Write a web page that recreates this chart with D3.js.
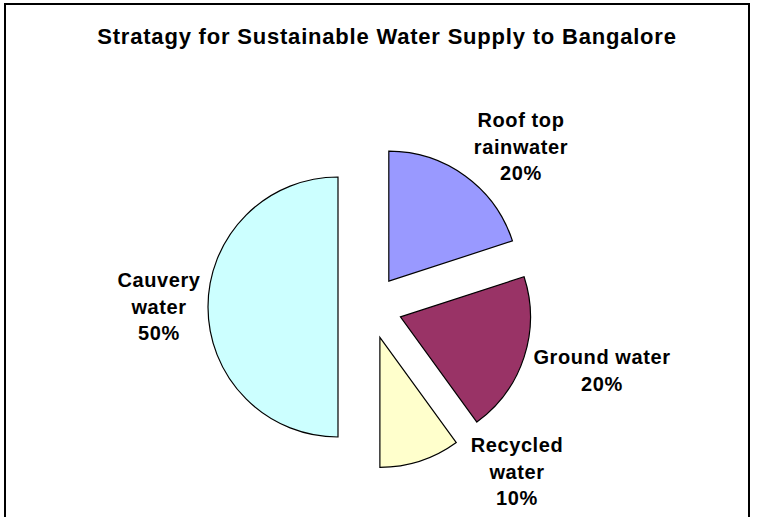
<!DOCTYPE html>
<html>
<head>
<meta charset="utf-8">
<script src="https://cdn.jsdelivr.net/npm/d3@7"></script>
<style>
  html, body { margin: 0; padding: 0; background: #fff; }
  svg { display: block; }
  text { font-family: "Liberation Sans", Arial, Helvetica, sans-serif; font-weight: bold; fill: #000; }
</style>
</head>
<body>
<svg id="chart" width="761" height="517"></svg>
<script>
// ---- data ----
const title = "Stratagy for Sustainable Water Supply to Bangalore";
const categories = ["Roof top\nrainwater", "Ground water", "Recycled\nwater", "Cauvery\nwater"];
const values = [20, 20, 10, 50];
const colors = ["#9999FF", "#993366", "#FFFFCC", "#CCFFFF"];

// ---- layout ----
const W = 761, H = 517;
const cx = 370, cy = 307, radius = 130, explode = 32;
// label first-baseline offsets from pie centre (per slice)
const labelOffsets = [[151, -180], [232, 57], [147, 145], [-211, -20]];
const lineHeight = 26.5;

const svg = d3.select("#chart");

svg.append("rect")
  .attr("x", 5).attr("y", 4)
  .attr("width", 744).attr("height", 600)
  .attr("fill", "#fff")
  .attr("stroke", "#000")
  .attr("stroke-width", 2);

svg.append("text")
  .attr("x", 387).attr("y", 44)
  .attr("text-anchor", "middle")
  .style("font-size", "22px")
  .style("letter-spacing", "0.8px")
  .text(title);

const total = d3.sum(values);
const pie = d3.pie().sort(null).value(d => d)(values);
const arc = d3.arc().innerRadius(0).outerRadius(radius);

const g = svg.append("g").attr("transform", `translate(${cx},${cy})`);

g.selectAll("path.slice")
  .data(pie)
  .join("path")
  .attr("class", "slice")
  .attr("transform", d => {
    const mid = (d.startAngle + d.endAngle) / 2;
    return `translate(${Math.sin(mid) * explode},${-Math.cos(mid) * explode})`;
  })
  .attr("d", arc)
  .attr("fill", (d, i) => colors[i])
  .attr("stroke", "#000")
  .attr("stroke-width", 1.2);

const labels = g.selectAll("text.lbl")
  .data(pie)
  .join("text")
  .attr("class", "lbl")
  .attr("text-anchor", "middle")
  .style("font-size", "20px")
  .style("letter-spacing", "0.6px")
  .attr("transform", (d, i) => `translate(${labelOffsets[i][0]},${labelOffsets[i][1]})`);

labels.each(function(d, i) {
  const lines = categories[i].split("\n").concat([Math.round(d.value / total * 100) + "%"]);
  d3.select(this).selectAll("tspan")
    .data(lines)
    .join("tspan")
    .attr("x", 0)
    .attr("dy", (l, j) => j === 0 ? 0 : lineHeight)
    .text(l => l);
});
</script>
</body>
</html>
